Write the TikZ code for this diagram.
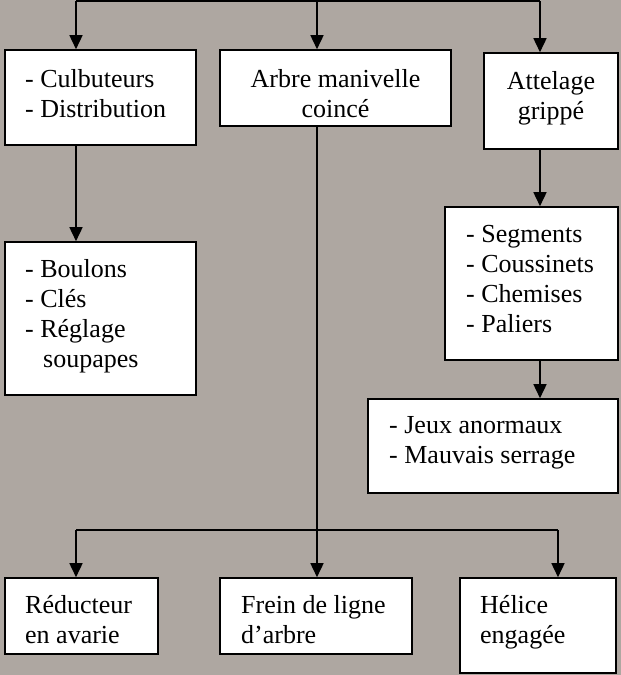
\documentclass[tikz,border=0pt]{standalone}
\usepackage{fontspec}
\setmainfont{Liberation Serif}
\usetikzlibrary{arrows.meta}
\definecolor{bg}{RGB}{174,167,161}

\begin{document}
\begin{tikzpicture}[x=1pt,y=-1pt]
  \tikzstyle{box}=[draw, fill=white, line width=1.6pt, inner sep=0pt]
  \tikzstyle{txt}=[inner sep=0pt, font=\fontsize{26}{30}\selectfont]
  \tikzstyle{arrow}=[line width=1.6pt, -{Triangle[length=14pt, width=13pt]}]
  \tikzstyle{link}=[line width=1.6pt]

  \path[use as bounding box, fill=bg] (0,0) rectangle (621,675);

  % boxes
  \node[box, minimum width=191pt, minimum height=95pt]  (cul)    at (100.5,97.5) {};
  \node[box, minimum width=231pt, minimum height=76pt]  (arbre)  at (335.5,88)   {};
  \node[box, minimum width=134pt, minimum height=96pt]  (attel)  at (551,101)    {};
  \node[box, minimum width=191pt, minimum height=153pt] (boul)   at (100.5,318.5) {};
  \node[box, minimum width=173pt, minimum height=153pt] (segm)   at (531.5,283.5) {};
  \node[box, minimum width=250pt, minimum height=94pt]  (jeux)   at (493,446)    {};
  \node[box, minimum width=153pt, minimum height=76pt]  (reduc)  at (81.5,616)   {};
  \node[box, minimum width=192pt, minimum height=76pt]  (frein)  at (316,616)    {};
  \node[box, minimum width=156pt, minimum height=95pt]  (helice) at (538,625.5)  {};

  % texts
  \node[txt, anchor=north west, align=left] (cul-t) at (25,66)
    {\strut- Culbuteurs\\- Distribution};
  \node[txt, anchor=north, align=center] (arbre-t) at (335.5,66)
    {\strut Arbre manivelle\\coincé};
  \node[txt, anchor=north, align=center] (attel-t) at (551,68)
    {\strut Attelage\\grippé};
  \node[txt, anchor=north west, align=left] (boul-t) at (25,256)
    {\strut- Boulons\\- Clés\\- Réglage\\\hspace*{18pt}soupapes};
  \node[txt, anchor=north west, align=left] (segm-t) at (466,221)
    {\strut- Segments\\- Coussinets\\- Chemises\\- Paliers};
  \node[txt, anchor=north west, align=left] (jeux-t) at (389,412)
    {\strut- Jeux anormaux\\- Mauvais serrage};
  \node[txt, anchor=north west, align=left] (reduc-t) at (25,592)
    {\strut Réducteur\\en avarie};
  \node[txt, anchor=north west, align=left] (frein-t) at (241,592)
    {\strut Frein de ligne\\d’arbre};
  \node[txt, anchor=north west, align=left] (helice-t) at (480,592)
    {\strut Hélice\\engagée};

  % connectors
  \coordinate (top)  at (317,0);
  \coordinate (tl)   at (76,1);
  \coordinate (tr)   at (540,1);
  \coordinate (bl)   at (76,530);
  \coordinate (br)   at (558,530);

  \draw[link] (tl) -- (tr);
  \draw[link] (top) -- (top |- tl);
  \draw[arrow] (tl) -- (tl |- cul.north);
  \draw[arrow] (top |- tl) -- (top |- arbre.north);
  \draw[arrow] (tr) -- (tr |- attel.north);
  \draw[arrow] (tl |- cul.south) -- (tl |- boul.north);
  \draw[arrow] (tr |- attel.south) -- (tr |- segm.north);
  \draw[arrow] (tr |- segm.south) -- (tr |- jeux.north);
  \draw[arrow] (top |- arbre.south) -- (top |- frein.north);
  \draw[link] (bl) -- (br);
  \draw[arrow] (bl) -- (bl |- reduc.north);
  \draw[arrow] (br) -- (br |- helice.north);
\end{tikzpicture}
\end{document}
